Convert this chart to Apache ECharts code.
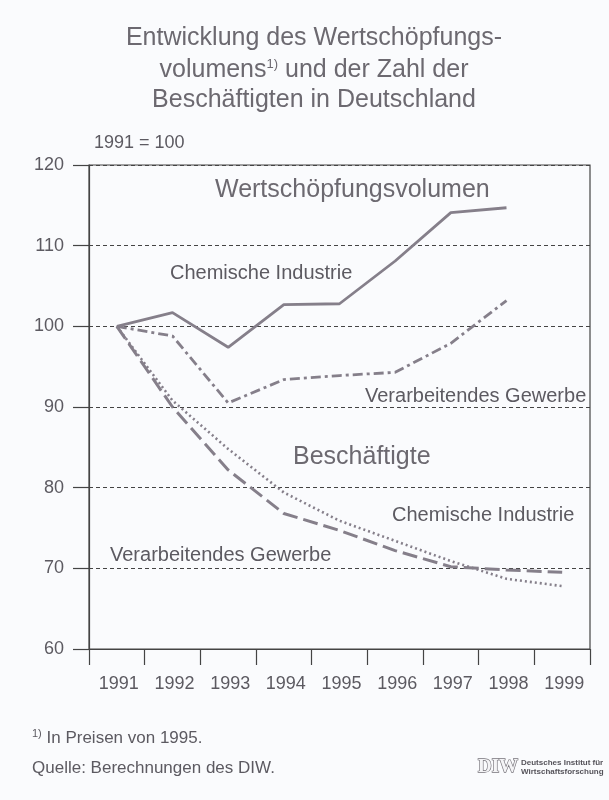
<!DOCTYPE html>
<html>
<head>
<meta charset="utf-8">
<script src="https://cdn.jsdelivr.net/npm/echarts@6/dist/echarts.min.js"></script>
<style>
  html, body { margin: 0; padding: 0; background: #fafbfd; }
  #chart { width: 609px; height: 800px; }
</style>
</head>
<body>
<div id="chart"></div>
<script>
// Jahre (Kategorien der x-Achse)
var years = ["1991", "1992", "1993", "1994", "1995", "1996", "1997", "1998", "1999"];
// Wertschöpfungsvolumen, 1991 = 100
var wsvChemie = [100, 101.7, 97.4, 102.7, 102.8, 108.1, 114.1, 114.7, null];
var wsvVerarb = [100, 98.8, 90.5, 93.4, 93.9, 94.3, 97.9, 103.2, null];
// Beschäftigte, 1991 = 100
var besChemie = [100, 90.8, 84.8, 79.4, 75.9, 73.4, 70.9, 68.7, 67.8];
var besVerarb = [100, 90.0, 82.2, 76.8, 74.7, 72.2, 70.2, 69.8, 69.5];
var yTicks = [60, 70, 80, 90, 100, 110, 120];

var lineColor = "#857f8a";
var textColor = "#5c5a61";
var titleColor = "#6c6970";
var font = "'Liberation Sans', Arial, sans-serif";

var chart = echarts.init(document.getElementById("chart"));

function series(name, data, type, width) {
  return {
    name: name,
    type: "line",
    data: data,
    symbol: "none",
    connectNulls: false,
    lineStyle: { color: lineColor, width: width, type: type, cap: "butt" }
  };
}

// Beschriftung mit linkem Rand x und vertikaler Mitte y
function label(x, y, text, size, color) {
  return {
    type: "text",
    x: x,
    y: y,
    style: {
      text: text,
      fill: color || textColor,
      font: size + "px " + font,
      verticalAlign: "middle"
    }
  };
}

function titleLine(y, text) {
  return {
    type: "text",
    x: 314,
    y: y,
    style: {
      text: text,
      fill: titleColor,
      font: "25px " + font,
      align: "center",
      verticalAlign: "middle",
      rich: {
        sup: { fontSize: 13, fill: titleColor, verticalAlign: "top", padding: [0, 0, 10, 0] }
      }
    }
  };
}

var option = {
  backgroundColor: "#fafbfd",
  animation: false,
  grid: {
    left: 89,
    right: 19,
    top: 165,
    bottom: 151,
    show: true,
    borderColor: "#444",
    borderWidth: 1.2
  },
  xAxis: {
    type: "category",
    data: years,
    boundaryGap: true,
    axisLine: { lineStyle: { color: "#444", width: 1.2 } },
    axisTick: { show: true, length: 16, lineStyle: { color: "#444", width: 1.2 } },
    axisLabel: { color: textColor, fontFamily: font, fontSize: 18, margin: 26, padding: [0, 0, 0, 4] },
    splitLine: { show: false }
  },
  yAxis: {
    type: "value",
    min: yTicks[0],
    max: yTicks[yTicks.length - 1],
    interval: 10,
    axisLine: { show: true, lineStyle: { color: "#444", width: 1.2 } },
    axisTick: { show: true, length: 16, lineStyle: { color: "#444", width: 1.2 } },
    axisLabel: { color: textColor, fontFamily: font, fontSize: 18, margin: 25 },
    splitLine: { show: true, lineStyle: { color: "#444", width: 1, type: [4, 3] } }
  },
  series: [
    series("WSV Chemische Industrie", wsvChemie, "solid", 2.8),
    series("WSV Verarbeitendes Gewerbe", wsvVerarb, [10, 4, 3, 4], 2.8),
    series("Beschäftigte Chemische Industrie", besChemie, [2, 3], 2.6),
    series("Beschäftigte Verarbeitendes Gewerbe", besVerarb, [15, 6], 3)
  ],
  graphic: [
    titleLine(38, "Entwicklung des Wertschöpfungs-"),
    titleLine(70, "volumens{sup|1)} und der Zahl der"),
    titleLine(100, "Beschäftigten in Deutschland"),
    label(94, 143, "1991 = 100", 18),
    label(215, 190, "Wertschöpfungsvolumen", 25, titleColor),
    label(170, 273, "Chemische Industrie", 20),
    label(365, 396, "Verarbeitendes Gewerbe", 20),
    label(293, 457, "Beschäftigte", 25, titleColor),
    label(392, 515, "Chemische Industrie", 20),
    label(110, 555, "Verarbeitendes Gewerbe", 20),
    {
      type: "text",
      x: 32,
      y: 738,
      style: {
        text: "{s|1)} In Preisen von 1995.",
        fill: textColor,
        font: "17px " + font,
        verticalAlign: "middle",
        rich: { s: { fontSize: 11, verticalAlign: "top", padding: [0, 0, 8, 0], fill: textColor } }
      }
    },
    label(32, 768, "Quelle: Berechnungen des DIW.", 17),
    {
      type: "text",
      x: 478,
      y: 767,
      style: {
        text: "DIW",
        fill: "#f4f4f6",
        stroke: "#77747b",
        lineWidth: 1.3,
        font: "bold 19px 'Liberation Serif', serif",
        verticalAlign: "middle"
      }
    },
    {
      type: "text",
      x: 521,
      y: 767,
      style: {
        text: "Deutsches Institut für\nWirtschaftsforschung",
        fill: "#55535a",
        font: "bold 8px " + font,
        lineHeight: 9,
        verticalAlign: "middle"
      }
    }
  ]
};

chart.setOption(option);
</script>
</body>
</html>
